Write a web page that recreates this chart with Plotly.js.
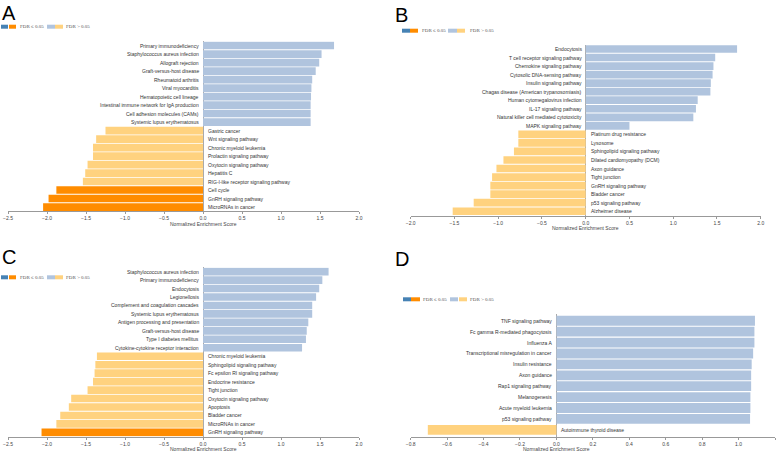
<!DOCTYPE html>
<html><head><meta charset="utf-8">
<script src="https://cdn.plot.ly/plotly-3.0.1.min.js"></script>
<style>html,body{margin:0;padding:0;background:#fff;}#chart{width:777px;height:451px;}</style>
</head><body><div id="chart"></div>
<script>
// ---- Data ----
const catsA = ["Primary immunodeficiency","Staphylococcus aureus infection","Allograft rejection","Graft-versus-host disease","Rheumatoid arthritis","Viral myocarditis","Hematopoietic cell lineage","Intestinal immune network for IgA production","Cell adhesion molecules (CAMs)","Systemic lupus erythematosus","Gastric cancer","Wnt signaling pathway","Chronic myeloid leukemia","Prolactin signaling pathway","Oxytocin signaling pathway","Hepatitis C","RIG-I-like receptor signaling pathway","Cell cycle","GnRH signaling pathway","MicroRNAs in cancer"];
const nesA = [1.68,1.52,1.49,1.445,1.40,1.39,1.385,1.38,1.38,1.38,-1.25,-1.37,-1.41,-1.41,-1.48,-1.51,-1.54,-1.88,-1.98,-2.05];
const sigA = [0,0,0,0,0,0,0,0,0,0,0,0,0,0,0,0,0,1,1,1];

const catsB = ["Endocytosis","T cell receptor signaling pathway","Chemokine signaling pathway","Cytosolic DNA-sensing pathway","Insulin signaling pathway","Chagas disease (American trypanosomiasis)","Human cytomegalovirus infection","IL-17 signaling pathway","Natural killer cell mediated cytotoxicity","MAPK signaling pathway","Platinum drug resistance","Lysosome","Sphingolipid signaling pathway","Dilated cardiomyopathy (DCM)","Axon guidance","Tight junction","GnRH signaling pathway","Bladder cancer","p53 signaling pathway","Alzheimer disease"];
const nesB = [1.73,1.48,1.46,1.45,1.43,1.425,1.28,1.26,1.23,0.50,-0.77,-0.77,-0.82,-0.94,-1.02,-1.07,-1.09,-1.09,-1.28,-1.52];
const sigB = [0,0,0,0,0,0,0,0,0,0,0,0,0,0,0,0,0,0,0,0];

const catsC = ["Staphylococcus aureus infection","Primary immunodeficiency","Endocytosis","Legionellosis","Complement and coagulation cascades","Systemic lupus erythematosus","Antigen processing and presentation","Graft-versus-host disease","Type I diabetes mellitus","Cytokine-cytokine receptor interaction","Chronic myeloid leukemia","Sphingolipid signaling pathway","Fc epsilon RI signaling pathway","Endocrine resistance","Tight junction","Oxytocin signaling pathway","Apoptosis","Bladder cancer","MicroRNAs in cancer","GnRH signaling pathway"];
const nesC = [1.61,1.53,1.49,1.45,1.40,1.40,1.35,1.33,1.32,1.27,-1.36,-1.38,-1.39,-1.41,-1.48,-1.69,-1.72,-1.83,-1.88,-2.07];
const sigC = [0,0,0,0,0,0,0,0,0,0,0,0,0,0,0,0,0,0,0,1];

const catsD = ["TNF signaling pathway","Fc gamma R-mediated phagocytosis","Influenza A","Transcriptional misregulation in cancer","Insulin resistance","Axon guidance","Rap1 signaling pathway","Melanogenesis","Acute myeloid leukemia","p53 signaling pathway","Autoimmune thyroid disease"];
const nesD = [1.09,1.087,1.087,1.08,1.072,1.069,1.069,1.065,1.065,1.063,-0.706];
const sigD = [0,0,0,0,0,0,0,0,0,0,0];

const panelLetters = ["A","B","C","D"];
const legendLabels = ["FDR \u2264 0.05","FDR > 0.05"];
const axisTitle = "Normalized Enrichment Score";

// ---- Styles ----
const W = 777, H = 451;
const C_SIG_POS = "#4682b4", C_SIG_NEG = "#ff8c00", C_NS_POS = "#b0c4de", C_NS_NEG = "#ffd27f";
const px = x => x / W;
const py = y => 1 - y / H;

const panels = [
  {cats: catsA, nes: nesA, sig: sigA, xr: [-2.5, 2.0], dx: [8, 359], dy: [41.3, 211.3], n: 20,
   letter: [0, 0], leg: {y: 26.7, r: [[1,8],[9,16],[47,55],[55,63]], t: [18, 64]}},
  {cats: catsB, nes: nesB, sig: sigB, xr: [-2.0, 2.0], dx: [410.7, 760.7], dy: [44.7, 215.5], n: 20,
   letter: [393, 2], leg: {y: 30.7, r: [[402,410],[410,418],[448,457],[457,465]], t: [420, 468]}},
  {cats: catsC, nes: nesC, sig: sigC, xr: [-2.5, 2.0], dx: [8, 359], dy: [267.4, 436.6], n: 20,
   letter: [0, 244], leg: {y: 277.3, r: [[1,8],[9,16],[47,55],[55,63]], t: [18, 64]}},
  {cats: catsD, nes: nesD, sig: sigD, xr: [-0.8, 1.2], dx: [410.7, 775], dy: [314, 436.6], n: 11,
   letter: [393, 246], leg: {y: 299.3, r: [[403,411],[411,420],[450,458],[459,467]], t: [421, 468]}}
];

const data = [], annotations = [], shapes = [];
const layout = {
  width: W, height: H, autosize: false, showlegend: false,
  margin: {l: 0, r: 0, t: 0, b: 0}, paper_bgcolor: "#fff", plot_bgcolor: "#fff",
  bargap: 0.1, font: {family: "Liberation Sans, Arial, sans-serif", size: 5, color: "#333"}
};

panels.forEach((p, i) => {
  const k = i === 0 ? "" : String(i + 1);
  const xa = "x" + k, ya = "y" + k;
  const colors = p.nes.map((v, j) => p.sig[j] ? (v >= 0 ? C_SIG_POS : C_SIG_NEG) : (v >= 0 ? C_NS_POS : C_NS_NEG));
  data.push({
    type: "bar", orientation: "h", x: p.nes, y: p.cats, xaxis: xa, yaxis: ya,
    marker: {color: colors, line: {width: 0}}, hoverinfo: "x+y"
  });
  let top = -0.5, bot = p.n - 0.5;
  if (i === 3) { top = -0.62; bot = p.n - 0.38; }
  layout["xaxis" + k] = {
    domain: [px(p.dx[0]), px(p.dx[1])], anchor: ya, range: p.xr, dtick: (i === 3 ? 0.2 : 0.5), tick0: 0,
    tickformat: ".1f", showgrid: false, zeroline: true, zerolinecolor: "#aaaaaa", zerolinewidth: 1,
    showline: true, linecolor: "#999999", linewidth: 1, ticks: "outside", ticklen: 2, tickwidth: 1,
    tickcolor: "#999999", tickfont: {size: 5, color: "#444", family: "Liberation Sans, Arial, sans-serif"},
    fixedrange: true
  };
  layout["yaxis" + k] = {
    domain: [py(p.dy[1]), py(p.dy[0])], anchor: xa, type: "category", range: [bot, top],
    showticklabels: false, showgrid: false, zeroline: false, showline: false, ticks: "", fixedrange: true
  };
  // category labels beside the zero line
  p.cats.forEach((c, j) => {
    const pos = p.nes[j] >= 0;
    annotations.push({
      xref: xa, yref: ya, x: 0, y: c, text: c, showarrow: false,
      xanchor: pos ? "right" : "left", xshift: pos ? -2 : 3, yanchor: "middle",
      font: {size: 5, color: "#333", family: "Liberation Sans, Arial, sans-serif"}
    });
  });
  // axis title centred at zero
  annotations.push({
    xref: xa, yref: ya + " domain", x: 0, y: 0, yanchor: "top", yshift: -8.5, borderpad: 0, text: axisTitle,
    showarrow: false, font: {size: 5, color: "#444", family: "Liberation Sans, Arial, sans-serif"}
  });
  // panel letter
  annotations.push({
    xref: "paper", yref: "paper", x: px(p.letter[0]), y: py(p.letter[1]), xanchor: "left", yanchor: "top",
    text: panelLetters[i], showarrow: false, font: {size: 20, color: "#000", family: "Liberation Sans, Arial, sans-serif"}
  });
  // legend swatches
  const lc = [C_SIG_POS, C_SIG_NEG, C_NS_POS, C_NS_NEG];
  p.leg.r.forEach((r, j) => {
    shapes.push({type: "rect", xref: "paper", yref: "paper", x0: px(r[0]), x1: px(r[1]),
      y0: py(p.leg.y + 2), y1: py(p.leg.y - 2), fillcolor: lc[j], line: {width: 0}});
  });
  p.leg.t.forEach((t, j) => {
    annotations.push({xref: "paper", yref: "paper", x: px(t), y: py(p.leg.y), xanchor: "left", yanchor: "middle",
      text: legendLabels[j], showarrow: false, font: {size: 5, color: "#555", family: "Liberation Serif, Times New Roman, serif"}});
  });
});

layout.annotations = annotations;
layout.shapes = shapes;
Plotly.newPlot("chart", data, layout, {displayModeBar: false, staticPlot: true});
</script></body></html>
